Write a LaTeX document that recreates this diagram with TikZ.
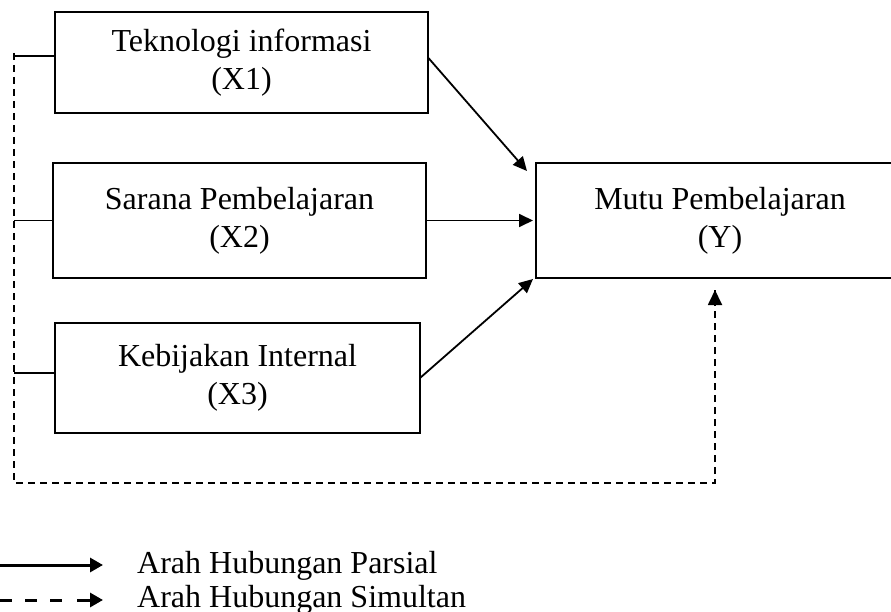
\documentclass[tikz,border=0pt]{standalone}
\usepackage{fontspec}
\setmainfont{Liberation Serif}
\usetikzlibrary{arrows.meta,calc}
\begin{document}
\begin{tikzpicture}[x=1pt,y=-1pt,
  varbox/.style={draw,line width=2pt,rectangle,outer sep=0pt,inner sep=0pt,align=center,font=\fontsize{32}{38}\selectfont},
  partial/.style={line width=1.8pt,-{Triangle[length=14pt,width=13pt]}},
  simul/.style={line width=1.8pt,dash pattern=on 7pt off 5pt},
  tie/.style={line width=1.8pt},
  legtext/.style={anchor=base west,inner sep=0pt,font=\fontsize{32}{37}\selectfont}]
\useasboundingbox (0,0) rectangle (891,612);
\node[varbox,minimum width=373pt,minimum height=101pt] (X1) at (241.5,62.5) {Teknologi informasi\\(X1)};
\node[varbox,minimum width=373pt,minimum height=115pt] (X2) at (239.5,220.5) {Sarana Pembelajaran\\(X2)};
\node[varbox,minimum width=365pt,minimum height=110pt] (X3) at (237.5,378) {Kebijakan Internal\\(X3)};
\node[varbox,minimum width=368pt,minimum height=115pt] (Y) at (720,220.5) {Mutu Pembelajaran\\(Y)};
% partial arrows
\coordinate (T1) at ($(Y.north west)+(-9,8)$);
\coordinate (T3) at ($(Y.south west)+(-3,1)$);
\draw[partial] ($(X1.east)+(0,-5)$) -- (T1);
\draw[partial,shorten >=3pt] (X2.east) -- (Y.west);
\draw[partial] (X3.east) -- (T3);
% simultaneous connector
\coordinate (L1) at (14,56);
\coordinate (L2) at (14,220.5);
\coordinate (L3) at (14,373);
\coordinate (D0) at (14,53);
\coordinate (D1) at (14,483);
\coordinate (D2) at (715,483);
\coordinate (D3) at (715,290);
\draw[tie] (L1) -- (X1.west |- L1);
\draw[tie] (L2) -- (X2.west);
\draw[tie] (L3) -- (X3.west |- L3);
\draw[simul] (D0) -- (D1) -- (D2) -- (D3);
\draw[line width=1.8pt,-{Triangle[length=15pt,width=14pt]}] ($(D3)+(0,15)$) -- (D3);
% legend
\node[legtext] (LP) at (137,573) {Arah Hubungan Parsial};
\node[legtext] (LS) at (137,607) {Arah Hubungan Simultan};
\coordinate (A0) at (0,565);
\coordinate (A1) at (103,565);
\coordinate (B0) at (0,600);
\coordinate (B1) at (103,600);
\draw[line width=3pt,-{Triangle[length=13pt,width=14pt]}] (A0) -- (A1);
\draw[line width=3pt,dash pattern=on 12pt off 13pt] (B0) -- ($(B1)+(-28,0)$);
\draw[line width=3pt,-{Triangle[length=13pt,width=14pt]}] ($(B1)+(-26,0)$) -- (B1);
\end{tikzpicture}
\end{document}
